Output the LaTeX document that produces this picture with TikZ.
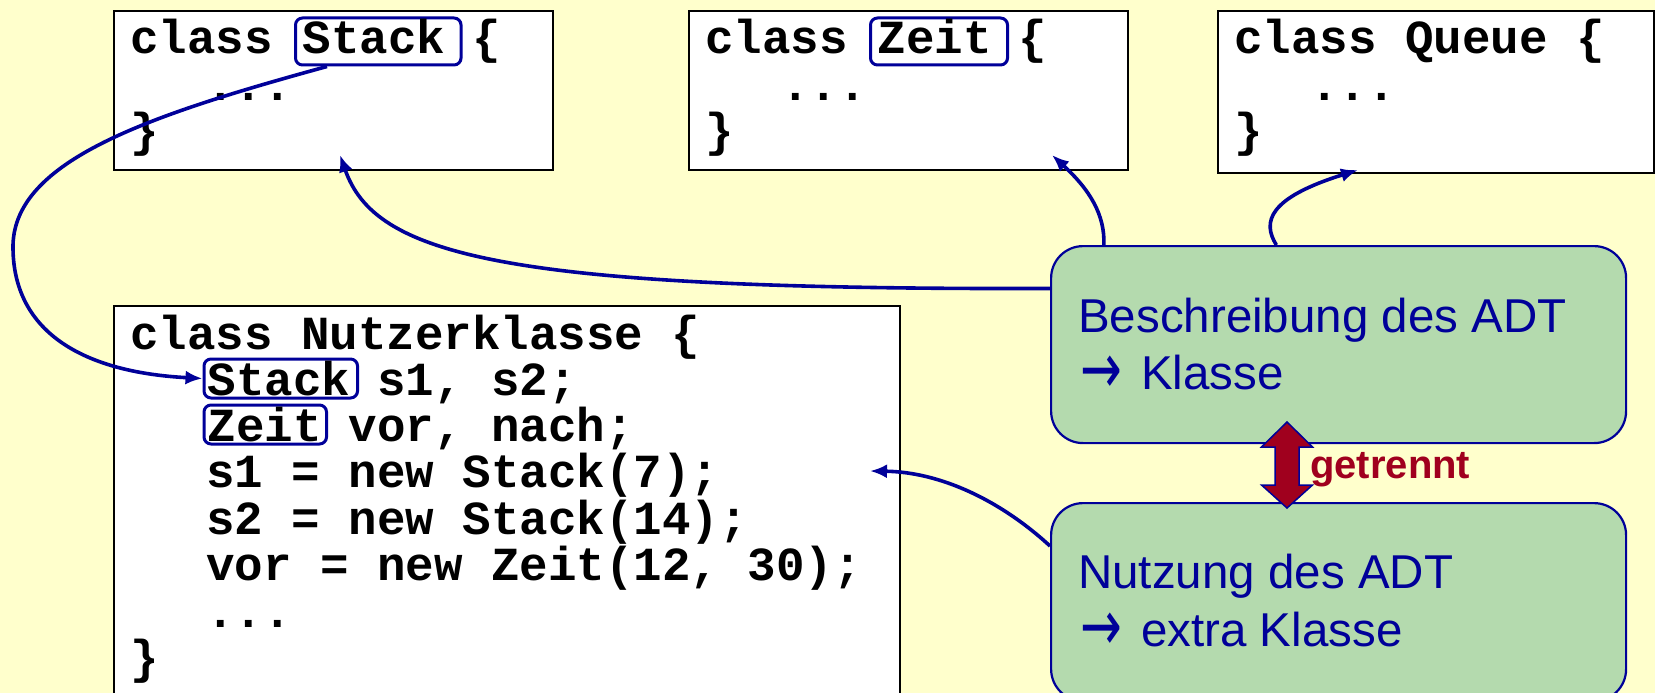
\documentclass[tikz,border=0pt]{standalone}
\usepackage{fontspec}
\setmainfont{Liberation Sans}
\newfontfamily\codefont{Liberation Mono}
\newfontfamily\arrowfont{DejaVu Sans}
\usetikzlibrary{arrows.meta}

\definecolor{paper}{RGB}{255,255,204}
\definecolor{adtgreen}{RGB}{180,218,174}
\definecolor{adtblue}{RGB}{0,0,153}
\definecolor{sepred}{RGB}{160,0,30}

% arrow glyph for the note texts, a little taller than the plain one
\newcommand{\toarrow}{\raisebox{-4pt}{\scalebox{1.05}[1.5]{\arrowfont →}}\kern6pt}

\begin{document}
\begin{tikzpicture}[x=1pt, y=-1pt,
  codebox/.style={draw=black, line width=1.8pt, fill=white, inner sep=0pt, anchor=north west},
  code/.style={font=\fontsize{47.5pt}{46pt}\codefont\bfseries, inner sep=0pt, anchor=base west},
  wordbox/.style={code, draw=adtblue, line width=3pt, rounded corners=7pt, text height=36pt},
  wordtop/.style={wordbox, text depth=11pt},
  wordin/.style={wordbox, text depth=3pt},
  adtbox/.style={draw=adtblue, line width=2.2pt, fill=adtgreen, rounded corners=32pt, inner sep=0pt, anchor=north west},
  adttext/.style={font=\fontsize{47.5pt}{57pt}\selectfont, text=adtblue, inner sep=0pt, anchor=base west},
  link/.style={draw=adtblue, line width=3.6pt, -{Latex[length=17pt,width=14pt]}}
]
\useasboundingbox (0,0) rectangle (1655,693);
\clip (0,0) rectangle (1655,693);
\fill[paper] (0,0) rectangle (1655,693);

% class definitions
\node[codebox, minimum width=439pt, minimum height=159pt] (stackbox) at (113,10) {};
\node[codebox, minimum width=439pt, minimum height=159pt] (zeitbox) at (688,10) {};
\node[codebox, minimum width=436pt, minimum height=162pt] (queuebox) at (1217,10) {};

\node[code] (s1) at (130,54) {class};
\node[wordtop] (stackdef) at (294,54) {\kern7pt Stack\kern16pt};
\node[code] (s2) at (472,54) {\{};
\node[code] (s3) at (206,100) {...};
\node[code] (s4) at (130,146) {\}};

\node[code] (z1) at (705,54) {class};
\node[wordtop] (zeitdef) at (869,54) {\kern7pt Zeit\kern16pt};
\node[code] (z2) at (1018.5,54) {\{};
\node[code] (z3) at (781,100) {...};
\node[code] (z4) at (705,146) {\}};

\node[code] (q1) at (1234,54) {class Queue \{};
\node[code] (q3) at (1310,100) {...};
\node[code] (q4) at (1234,146) {\}};

% user class
\node[codebox, minimum width=786pt, minimum height=400pt] (userbox) at (113,305) {};
\node[code] (u0) at (130,349) {class Nutzerklasse \{};
\node[wordin] (stackuse) at (202.5,395) {\kern3.5pt Stack\kern7.5pt};
\node[code] (u1) at (377,395) {s1, s2;};
\node[wordin] (zeituse) at (202.5,441) {\kern3.5pt Zeit\kern5pt};
\node[code] (u2) at (348.5,441) {vor, nach;};
\node[code] (u3) at (206,487.5) {s1 = new Stack(7);};
\node[code] (u4) at (206,534) {s2 = new Stack(14);};
\node[code] (u5) at (206,580.5) {vor = new Zeit(12, 30);};
\node[code] (u6) at (206,627) {...};
\node[code] (u7) at (130,673.5) {\}};

% ADT notes
\node[adtbox, minimum width=575pt, minimum height=197pt] (desc) at (1050,245) {};
\node[adttext] (d1) at (1078,332) {Beschreibung des ADT};
\node[adttext] (d2) at (1080,389.5) {\toarrow\ Klasse};
\node[adtbox, minimum width=575pt, minimum height=198pt] (usage) at (1050,502) {};
\node[adttext] (n1) at (1078,588.5) {Nutzung des ADT};
\node[adttext] (n2) at (1080,646) {\toarrow\ extra Klasse};

% separation marker
\filldraw[fill=sepred, draw=adtblue, line width=1.5pt]
  (1287,422) -- (1312.5,447) -- (1299,447) -- (1299,485) -- (1312.5,485) -- (1287,508)
  -- (1261.5,485) -- (1275,485) -- (1275,447) -- (1261.5,447) -- cycle;
\node[font=\bfseries\fontsize{40pt}{48pt}\selectfont, text=sepred, inner sep=0pt, anchor=base west] (sep) at (1310,478) {getrennt};

% connector ends inside the boxes
\coordinate (stackin) at (340,155);
\coordinate (zeitin) at (1052,155);
\coordinate (queuein) at (1358,170);
\coordinate (userin) at (870,471);

% connectors
\draw[link] (stackdef.206) .. controls (150,115) and (15,160) .. (13,245)
  .. controls (12,330) and (80,372) .. (stackuse.west);
\draw[link] (desc.169.5) .. controls (500,290) and (375,255) .. (stackin);
\draw[link] (desc.157.7) .. controls (1105,215) and (1090,190) .. (zeitin);
\draw[link] (desc.122.4) .. controls (1262,222) and (1268,198) .. (queuein);
\draw[link] (usage.169.4) .. controls (1000,500) and (940,472) .. (userin);
\end{tikzpicture}
\end{document}
